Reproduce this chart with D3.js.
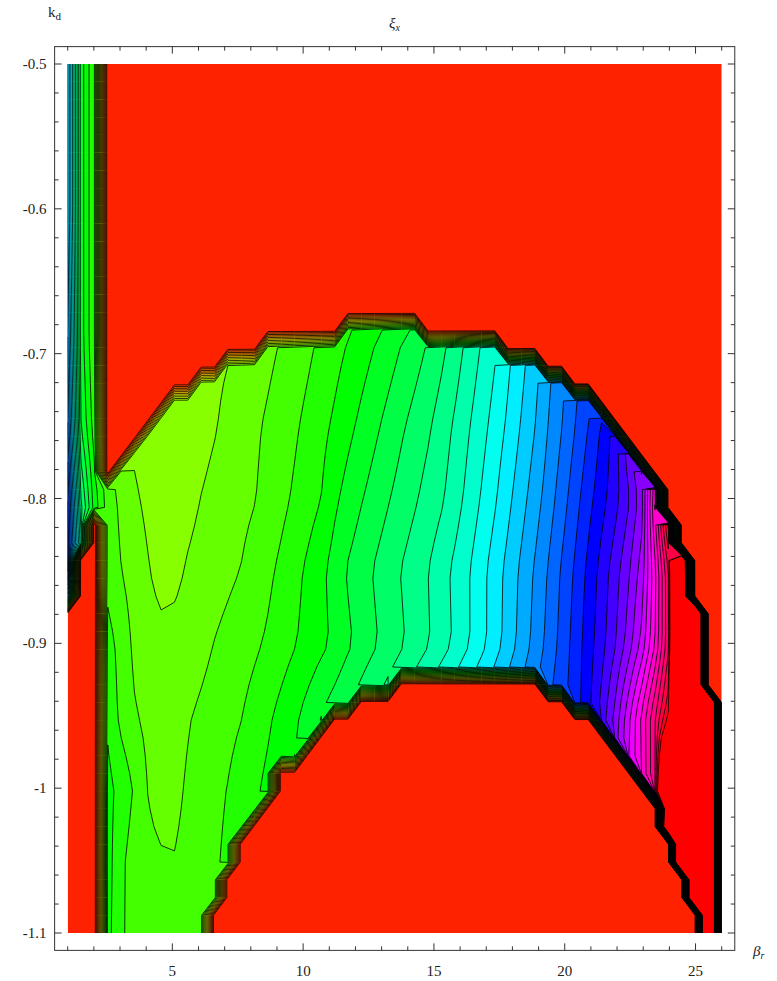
<!DOCTYPE html>
<html><head><meta charset="utf-8">
<script src="https://cdn.jsdelivr.net/npm/d3@7"></script>
<style>body{margin:0;background:#fff}svg{display:block}</style>
</head><body>
<svg id="chart" width="777" height="981"></svg>
<script>
// Sampling lattice of the surface (Mathematica-style PlotPoints)
const nx = 50, ny = 50;
const xMin = 1, xMax = 26, yMin = -1.1, yMax = -0.5;
const levelCount = 45;

// Lattice columns that carry a defined value, one entry per row, top row (k_d = -0.5) first
const insideSpans = [
  [[0,2]],[[0,2]],[[0,2]],[[0,2]],[[0,2]],[[0,2]],[[0,2]],[[0,2]],[[0,2]],[[0,2]],
  [[0,2]],[[0,2]],[[0,2]],[[0,2]],[[0,2]],
  [[0,2],[21,26]],
  [[0,2],[15,32]],
  [[0,2],[12,35]],
  [[0,2],[10,37]],
  [[0,2],[8,39]],
  [[0,2],[7,40]],
  [[0,2],[6,41]],
  [[0,2],[5,42]],
  [[0,2],[4,43]],
  [[0,44]],
  [[0,44]],
  [[0,1],[3,45]],
  [[0,1],[3,45]],
  [[0,0],[3,46]],
  [[0,0],[3,46]],
  [[0,0],[3,46]],
  [[3,47]],[[3,47]],[[3,47]],[[3,47]],
  [[3,24],[36,47]],
  [[3,21],[38,48]],
  [[3,19],[40,48]],
  [[3,18],[41,48]],
  [[3,17],[42,48]],
  [[3,15],[43,48]],
  [[3,15],[44,48]],
  [[3,14],[45,48]],
  [[3,13],[45,48]],
  [[3,12],[46,48]],
  [[3,12],[46,48]],
  [[3,11],[47,48]],
  [[3,11],[47,48]],
  [[3,10],[48,48]],
  [[3,10],[48,48]]
];

// Level of ξx (in contour steps) along rows of constant k_d: [β_r, level]
const profileY = [-0.5, -0.6, -0.69, -0.75, -0.8, -0.85, -0.9, -0.95, -1.0, -1.05, -1.1];
const profiles = [
  [[1,24],[1.51,15.5],[2.02,13],[2.6,12]],
  [[1,24],[1.51,15.5],[2.02,13],[2.6,12]],
  [[1,25],[1.51,15.5],[2.02,13],[2.6,12],[5.5,10.5],[7.5,11],[9.1,12],[10.5,13],[11.7,14],[12.8,15],[13.8,16],[14.75,17],[15.55,18],[16.15,19],[16.8,20],[17.45,21],[18.0,22],[18.6,23],[19.1,24],[19.55,25],[20.1,26],[20.6,27]],
  [[1,26],[1.51,16],[2.02,13.5],[2.6,11.5],[4.0,10.4],[5.5,10.4],[6.75,11],[8.43,12],[9.88,13],[11.03,14],[11.98,15],[12.94,16],[13.9,17],[14.93,18],[15.69,19],[16.38,20],[17.07,21],[17.72,22],[18.29,23],[18.87,24],[19.36,25],[19.9,26],[20.4,27],[20.89,28],[21.35,29],[21.81,30],[22.3,32],[22.8,35]],
  [[1,28],[1.51,18],[2.02,14.5],[2.53,12.5],[2.85,12],[3.68,11],[4.9,10.3],[6.06,11],[8.24,12],[9.5,13],[10.69,14],[11.34,15],[12.29,16],[13.33,17],[14.4,18],[15.43,19],[16.11,20],[16.76,21],[17.41,22],[17.98,23],[18.56,24],[19.13,25],[19.63,26],[20.12,27],[20.58,28],[21.08,29],[21.61,30],[22.11,31],[22.49,32],[22.8,33],[23.07,34],[23.3,37],[23.5,40],[24.0,46]],
  [[1,29],[1.51,20],[2.02,15],[2.53,12.6],[3.06,12],[4.15,11],[4.75,10.5],[5.36,11],[7.59,12],[8.93,13],[10.0,14],[10.91,15],[11.61,16],[12.64,17],[13.71,18],[14.78,19],[15.62,20],[16.38,21],[17.03,22],[17.64,23],[18.22,24],[18.79,25],[19.33,26],[19.82,27],[20.32,28],[20.78,29],[21.24,30],[21.69,31],[22.11,32],[22.49,33],[22.87,34],[23.18,36],[23.49,38],[23.79,40],[24.1,43.5],[24.4,60],[25,80]],
  [[2.53,13.4],[2.92,13],[3.25,12],[4.2,11.3],[5.5,11.3],[6.56,12],[8.47,13],[9.76,14],[11.03,15],[11.87,16],[12.86,17],[13.9,18],[14.86,19],[15.69,20],[16.38,21],[17.03,22],[17.6,23],[18.14,24],[18.68,25],[19.21,26],[19.71,27],[20.2,28],[20.66,29],[21.12,30],[21.58,31],[21.96,32],[22.3,33],[22.61,34],[22.88,35],[23.1,36],[23.3,37],[23.45,38],[23.6,39],[23.76,40],[23.87,41],[23.99,42],[24.1,43],[24.2,44],[24.8,80]],
  [[2.53,13.8],[2.81,13],[3.64,12],[4.6,11.4],[5.74,12],[7.7,13],[8.85,14],[9.88,15],[10.65,16],[11.6,17],[12.5,18],[13.5,19],[19.4,27],[20.0,28],[20.4,28.5],[21.0,30],[21.6,32],[22.1,34],[22.5,36],[22.9,38],[23.3,40],[23.7,42.5],[24.0,44],[24.5,80]],
  [[2.53,14.3],[2.81,14],[3.5,13],[4.03,12],[4.7,11.5],[5.4,12],[7.08,13],[8.35,14],[9.0,14.5],[10,15.5],[11,16.5],[21.5,32],[22.4,36],[22.94,38],[23.45,41],[23.8,44],[24.3,80]],
  [[2.53,14.4],[2.81,14],[3.1,13],[3.8,12.3],[5.0,12.0],[6.2,12.5],[6.8,13],[7.5,13.5],[8.5,14],[23.0,40],[23.5,44],[24,80]],
  [[2.53,14.3],[2.85,13.8],[3.1,13],[3.5,12.5],[6.0,12.4],[6.5,12.6],[7,13],[24,80],[26,80]]
];

const xMajor = [5, 10, 15, 20, 25];
const yMajor = [-1.1, -1, -0.9, -0.8, -0.7, -0.6, -0.5];
const yMajorLabels = ["-1.1", "-1", "-0.9", "-0.8", "-0.7", "-0.6", "-0.5"];

// ---------- layout ----------
const svg = d3.select("#chart");
const xs = d3.scaleLinear().domain([xMin, xMax]).range([67.7, 721.7]);
const ys = d3.scaleLinear().domain([yMin, yMax]).range([933, 64]);
const padX = 0.02 * (xMax - xMin), padY = 0.02 * (yMax - yMin);
const fx0 = xs(xMin - padX), fx1 = xs(xMax + padX);
const fy0 = ys(yMax + padY), fy1 = ys(yMin - padY);

// ---------- surface values ----------
function evalProfile(p, x) {
  if (x <= p[0][0]) return p[0][1];
  for (let i = 1; i < p.length; i++) {
    if (x <= p[i][0]) {
      const [x0, v0] = p[i - 1], [x1, v1] = p[i];
      return v0 + (v1 - v0) * (x - x0) / (x1 - x0);
    }
  }
  return p[p.length - 1][1];
}
function level(x, y) {
  let k = 0;
  while (k < profileY.length - 2 && y < profileY[k + 1]) k++;
  const ya = profileY[k], yb = profileY[k + 1];
  const t = Math.max(0, Math.min(1, (y - ya) / (yb - ya)));
  return evalProfile(profiles[k], x) * (1 - t) + evalProfile(profiles[k + 1], x) * t;
}
const dxs = (xMax - xMin) / (nx - 1), dys = (yMax - yMin) / (ny - 1);
const values = new Array(nx * ny).fill(0);
insideSpans.forEach((spans, j) => {
  const y = yMax - j * dys;
  spans.forEach(([c0, c1]) => {
    for (let i = c0; i <= c1; i++) values[j * nx + i] = level(xMin + i * dxs, y);
  });
});

const thresholds = d3.range(1, levelCount);
const bands = d3.contours().size([nx, ny]).thresholds(thresholds)(values);
const bandColor = k => d3.hsl(((k + 1) / levelCount * 360) % 360, 1, 0.5).formatHex();

const proj = d3.geoTransform({
  point(u, v) {
    this.stream.point(xs(xMin + (u - 0.5) * dxs), ys(yMax - (v - 0.5) * dys));
  }
});
const path = d3.geoPath(proj);

svg.append("defs").append("clipPath").attr("id", "plotArea")
  .append("rect")
  .attr("x", xs(xMin)).attr("y", ys(yMax))
  .attr("width", xs(xMax) - xs(xMin)).attr("height", ys(yMin) - ys(yMax));

const plot = svg.append("g").attr("clip-path", "url(#plotArea)");
plot.append("rect")
  .attr("x", xs(xMin)).attr("y", ys(yMax))
  .attr("width", xs(xMax) - xs(xMin)).attr("height", ys(yMin) - ys(yMax))
  .attr("fill", bandColor(0));
plot.selectAll("path.band").data(bands).join("path")
  .attr("class", "band")
  .attr("d", path)
  .attr("fill", d => bandColor(d.value));
plot.selectAll("path.iso").data(bands).join("path")
  .attr("class", "iso")
  .attr("d", path)
  .attr("fill", "none")
  .attr("stroke", "#000")
  .attr("stroke-width", 0.8);

// ---------- frame and ticks ----------
svg.append("rect")
  .attr("x", fx0).attr("y", fy0).attr("width", fx1 - fx0).attr("height", fy1 - fy0)
  .attr("fill", "none").attr("stroke", "#333").attr("stroke-width", 1);

const ticks = svg.append("g").attr("stroke", "#333").attr("stroke-width", 1);
const xMinor = d3.range(1, 27).filter(v => !xMajor.includes(v));
const yMinor = d3.range(-1.1, -0.499, 0.02).map(v => +v.toFixed(2)).filter(v => !yMajor.some(m => Math.abs(m - v) < 1e-6));
function xTick(v, len) {
  ticks.append("line").attr("x1", xs(v)).attr("x2", xs(v)).attr("y1", fy1).attr("y2", fy1 - len);
  ticks.append("line").attr("x1", xs(v)).attr("x2", xs(v)).attr("y1", fy0).attr("y2", fy0 + len);
}
function yTick(v, len) {
  ticks.append("line").attr("y1", ys(v)).attr("y2", ys(v)).attr("x1", fx0).attr("x2", fx0 + len);
  ticks.append("line").attr("y1", ys(v)).attr("y2", ys(v)).attr("x1", fx1).attr("x2", fx1 - len);
}
xMajor.forEach(v => xTick(v, 7));
xMinor.forEach(v => xTick(v, 4));
yMajor.forEach(v => yTick(v, 7));
yMinor.forEach(v => yTick(v, 4));

const font = "'Liberation Serif', 'DejaVu Serif', serif";
svg.append("g").selectAll("text").data(xMajor).join("text")
  .attr("x", d => xs(d)).attr("y", 976)
  .attr("text-anchor", "middle").attr("font-family", font).attr("font-size", 15).attr("fill", "#222")
  .text(d => d);
svg.append("g").selectAll("text").data(yMajor).join("text")
  .attr("x", fx0 - 8).attr("y", d => ys(d) + 5)
  .attr("text-anchor", "end").attr("font-family", font).attr("font-size", 15).attr("fill", "#222")
  .text((d, i) => yMajorLabels[i]);

// axis names
const kd = svg.append("text").attr("x", 48).attr("y", 17).attr("font-family", font).attr("font-size", 15).attr("fill", "#222");
kd.append("tspan").text("k");
kd.append("tspan").attr("dy", 3).attr("font-size", 11).text("d");
const xi = svg.append("text").attr("x", 389).attr("y", 28).attr("font-family", font).attr("font-size", 15).attr("font-style", "italic").attr("fill", "#222");
xi.append("tspan").text("ξ");
xi.append("tspan").attr("dy", 3).attr("font-size", 10).text("x");
const br = svg.append("text").attr("x", 753).attr("y", 956).attr("font-family", font).attr("font-size", 15).attr("font-style", "italic").attr("fill", "#222");
br.append("tspan").text("β");
br.append("tspan").attr("dy", 3).attr("font-size", 10).text("r");
</script>
</body></html>
